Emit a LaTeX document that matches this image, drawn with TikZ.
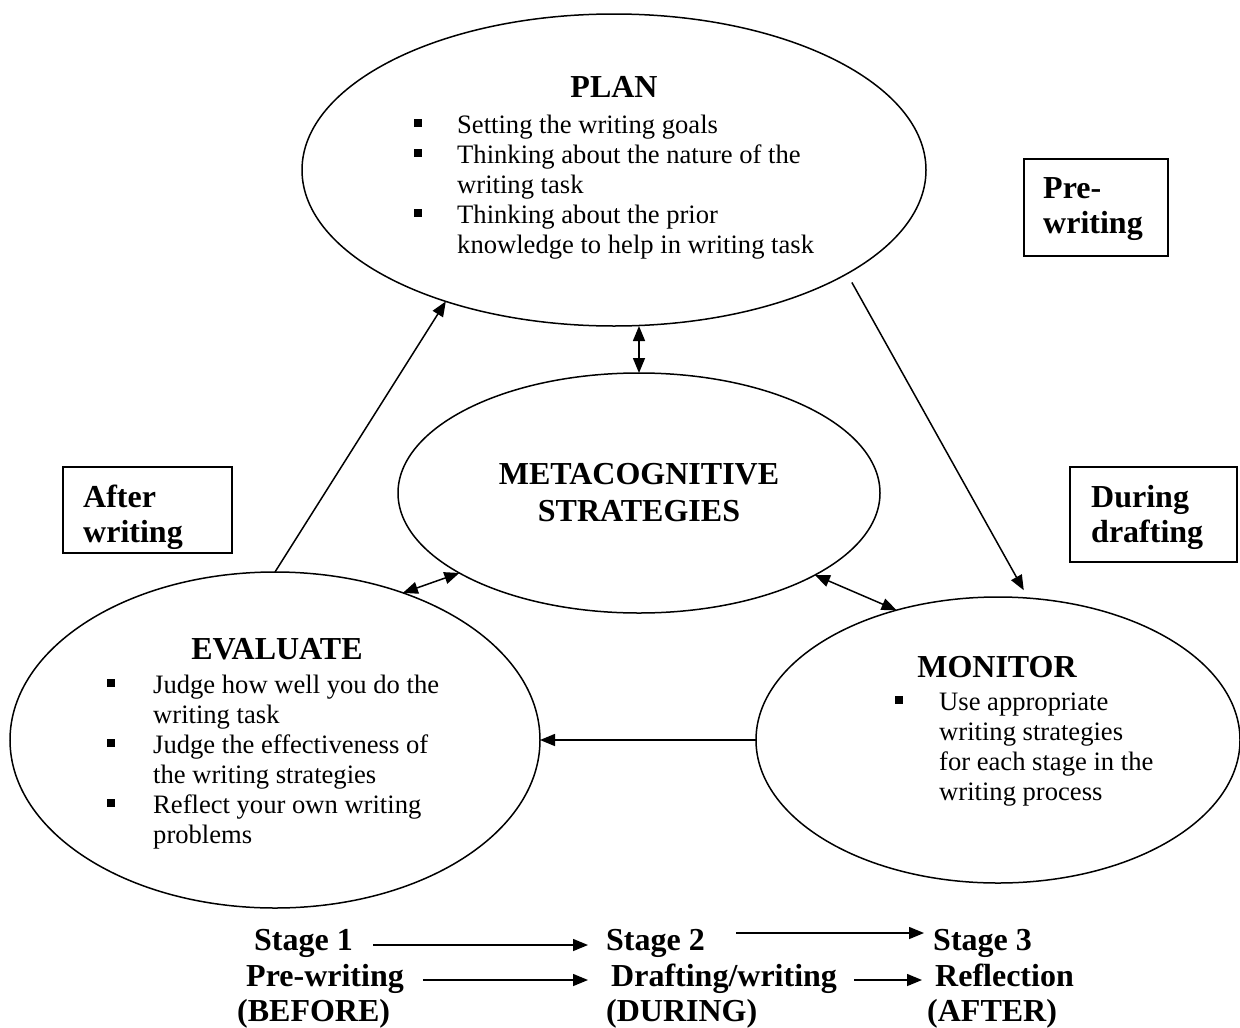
\documentclass[tikz,border=0pt]{standalone}
\usepackage{fontspec}
\setmainfont{Liberation Serif}
\usetikzlibrary{shapes.geometric,arrows.meta,calc}
\newcommand\myBody{\fontsize{26.6pt}{30pt}\selectfont}
\newcommand\myHead{\fontsize{32pt}{35pt}\selectfont\bfseries}
\newcommand\myBul{\raisebox{6.5pt}{\rule{8pt}{8pt}}}
\begin{document}
\begin{tikzpicture}[x=1pt,y=-1pt,
  ell/.style={ellipse,draw,line width=1.5pt,inner sep=0pt,outer sep=0pt},
  lbox/.style={draw,line width=2pt,inner sep=0pt,anchor=north west},
  head/.style={font=\myHead,inner sep=0pt},
  body/.style={font=\myBody,inner sep=0pt,anchor=north west},
  conn/.style={line width=1.5pt,-{Triangle[length=15pt,width=12pt]}},
  dconn/.style={line width=1.5pt,{Triangle[length=15pt,width=12pt]}-{Triangle[length=15pt,width=12pt]}},
]
\useasboundingbox[fill=white] (0,0) rectangle (1240,1028);

% ellipses
\node[ell,minimum width=624pt,minimum height=312pt] (plan) at (614,170) {};
\node[ell,minimum width=482pt,minimum height=240pt,align=center,font=\myHead] (meta) at (639,493) {METACOGNITIVE\\[2pt]STRATEGIES};
\node[ell,minimum width=530pt,minimum height=336pt] (eval) at (275,740) {};
\node[ell,minimum width=484pt,minimum height=286pt] (mon) at (998,740) {};

% titles
\node[head,anchor=base] (plantitle) at (614,97) {PLAN};
\node[head,anchor=base] (evaltitle) at (277,659) {EVALUATE};
\node[head,anchor=base] (montitle) at (997,677) {MONITOR};

% bullet texts
\node[body] (plantxt) at (414,112) {\begin{tabular}{@{}p{43pt}@{}l@{}}
\myBul & Setting the writing goals\\
\myBul & Thinking about the nature of the\\
 & writing task\\
\myBul & Thinking about the prior\\
 & knowledge to help in writing task
\end{tabular}};
\node[body] (evaltxt) at (107,672) {\begin{tabular}{@{}p{46pt}@{}l@{}}
\myBul & Judge how well you do the\\
 & writing task\\
\myBul & Judge the effectiveness of\\
 & the writing strategies\\
\myBul & Reflect your own writing\\
 & problems
\end{tabular}};
\node[body] (montxt) at (895,689) {\begin{tabular}{@{}p{44pt}@{}l@{}}
\myBul & Use appropriate\\
 & writing strategies\\
 & for each stage in the\\
 & writing process
\end{tabular}};

% side boxes
\node[lbox,minimum width=144pt,minimum height=97pt] (prebox) at (1023,158) {};
\node[head,anchor=north west] (pretxt) at (1043,173.5) {\begin{tabular}{@{}l@{}}Pre-\\writing\end{tabular}};
\node[lbox,minimum width=169pt,minimum height=86pt] (afterbox) at (62,466) {};
\node[head,anchor=north west] (aftertxt) at (83,482.5) {\begin{tabular}{@{}l@{}}After\\writing\end{tabular}};
\node[lbox,minimum width=167pt,minimum height=95pt] (durbox) at (1069,466) {};
\node[head,anchor=north west] (durtxt) at (1091,482.5) {\begin{tabular}{@{}l@{}}During\\drafting\end{tabular}};

% connectors between ellipses
\draw[dconn] (meta.north) -- (meta.north |- plan.south);
\draw[conn] (eval.north) -- (plan.218.8);
\draw[conn,shorten <=10pt,shorten >=9pt] (plan.336.9) -- (mon.78.5);
\draw[conn] (mon.west) -- (mon.west -| eval.east);
\draw[dconn] (meta.204) -- (eval.49.4);
\draw[dconn] (meta.335.6) -- (mon.128.8);

% bottom stages
\node[head,anchor=base west] (s1) at (254,950) {Stage 1};
\node[head,anchor=base west] (pw) at (246,986) {Pre-writing};
\node[head,anchor=base west] (bef) at (237,1021) {(BEFORE)};
\node[head,anchor=base west] (s2) at (606,950) {Stage 2};
\node[head,anchor=base west] (dw) at (611,986) {Drafting/writing};
\node[head,anchor=base west] (dur) at (606,1021) {(DURING)};
\node[head,anchor=base west] (s3) at (933,950) {Stage 3};
\node[head,anchor=base west] (refl) at (935,986) {Reflection};
\node[head,anchor=base west] (aft) at (927,1021) {(AFTER)};

\draw[conn] ($(s1.base east)+(20,-5)$) -- ($(s2.base west)+(-18,-5)$);
\draw[conn] ($(pw.base east)+(19,-6)$) -- ($(dw.base west)+(-23,-6)$);
\draw[conn] ($(s2.base east)+(31,-17)$) -- ($(s3.base west)+(-9,-17)$);
\draw[conn] ($(dw.base east)+(17,-6)$) -- ($(refl.base west)+(-13,-6)$);
\end{tikzpicture}
\end{document}
